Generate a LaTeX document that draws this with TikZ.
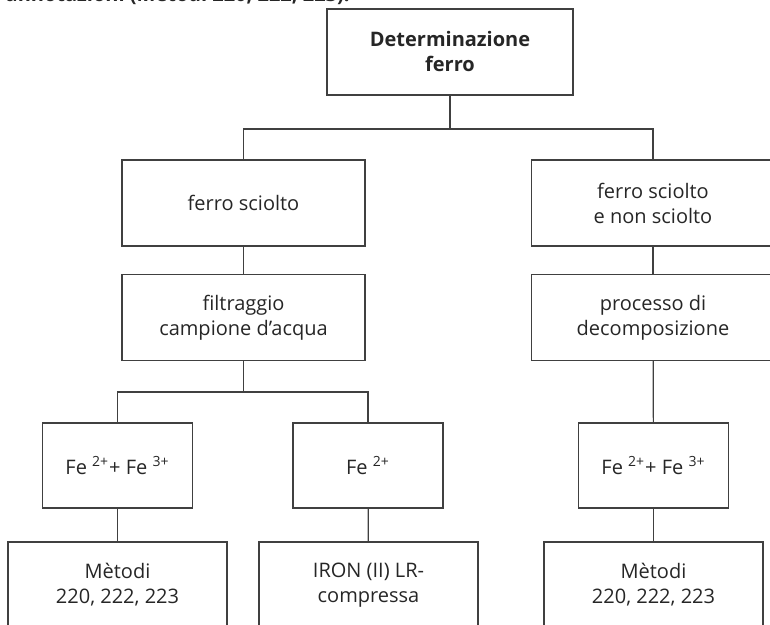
\documentclass[tikz,border=0pt]{standalone}
\usepackage{fontspec}
\setmainfont{Open Sans}
\usepackage{tikz}
\usetikzlibrary{positioning, calc}

\begin{document}
\begin{tikzpicture}[
    x=0.5pt, y=-0.5pt,
    box/.style={draw=black!75, line width=0.6pt, rectangle, minimum width=121.5pt, minimum height=43pt, inner sep=0pt, align=center, text=black!85, font=\fontsize{10}{12.5}\selectfont},
    headbox/.style={box, minimum width=123pt, font=\fontsize{10}{12.5}\selectfont\bfseries},
    ionbox/.style={box, minimum width=75pt, minimum height=42.5pt},
    methodbox/.style={box, minimum width=109.5pt},
    link/.style={draw=black!75, line width=0.6pt}
]
    \useasboundingbox (0,0) rectangle (770,625);
    \clip (0,0) rectangle (770,625);

    % --- Caption (cut off at the top) ---
    \node[anchor=base east, inner sep=0pt, text=black!85, font=\fontsize{10}{12}\selectfont\bfseries] (caption) at (350, 2) {annotazioni (Metodi 220, 222, 223).};

    % --- Root ---
    \node[headbox] (DET) at (450, 52) {Determinazione\\ferro};

    % --- Columns ---
    \node[box] (SCIOLTO) at (243.5, 203) {ferro sciolto};
    \node[box] (FILTRO) at (243.5, 317.5) {filtraggio\\campione d'acqua};
    \node[box] (TOTALE) at (653, 203) {ferro sciolto\\e non sciolto};
    \node[box] (DECOMP) at (653, 317.5) {processo di\\decomposizione};

    % --- Ions ---
    \node[ionbox] (ION_A) at (117.5, 465.5) {Fe \textsuperscript{2+}+ Fe \textsuperscript{3+}};
    \node[ionbox] (ION_B) at (368, 465.5) {Fe \textsuperscript{2+}};
    \node[ionbox] (ION_C) at (653.5, 465.5) {Fe \textsuperscript{2+}+ Fe \textsuperscript{3+}};

    % --- Methods ---
    \node[methodbox] (MET_A) at (117.5, 585) {Mètodi\\220, 222, 223};
    \node[methodbox] (MET_B) at (368.5, 585) {IRON (II) LR-\\compressa};
    \node[methodbox] (MET_C) at (653.5, 585) {Mètodi\\220, 222, 223};

    % --- Branch points ---
    \coordinate (split_top) at (450, 129);
    \coordinate (split_low) at (243.5, 392);

    % --- Connections ---
    \draw[link] (DET) -- (split_top);
    \draw[link] (SCIOLTO) |- (split_top) -| (TOTALE);

    \draw[link] (SCIOLTO) -- (FILTRO);
    \draw[link] (TOTALE) -- (DECOMP);

    \draw[link] (FILTRO) -- (split_low);
    \draw[link] (ION_A) |- (split_low) -| (ION_B);
    \draw[link] (DECOMP) -- (ION_C);

    \draw[link] (ION_A) -- (MET_A);
    \draw[link] (ION_B) -- (MET_B);
    \draw[link] (ION_C) -- (MET_C);

\end{tikzpicture}
\end{document}
